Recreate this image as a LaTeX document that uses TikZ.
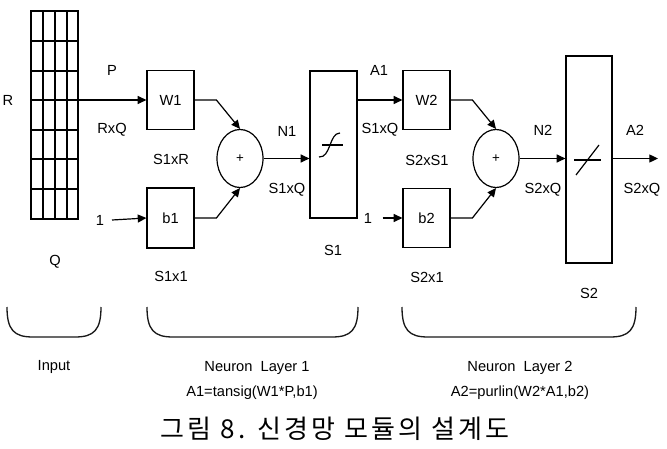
\documentclass[tikz,border=0pt]{standalone}
\usepackage{fontspec}
\setmainfont{Liberation Sans}
\newfontfamily\krfont[LetterSpace=12]{Noto Sans CJK KR}
\usetikzlibrary{arrows.meta,shapes.geometric}
\begin{document}
\begin{tikzpicture}[x=0.75pt,y=-0.75pt,
  lw/.style={line width=0.9pt},
  blk/.style={draw,lw,rectangle,inner sep=0pt,minimum width=35.25pt,minimum height=44pt,font=\fontsize{11}{13}\selectfont},
  tall/.style={draw,lw,rectangle,inner sep=0pt},
  sumnode/.style={draw,lw,ellipse,inner sep=0pt,minimum width=34.5pt,minimum height=43.5pt,font=\fontsize{10}{12}\selectfont},
  lbl/.style={inner sep=1pt,font=\fontsize{11}{13}\selectfont},
  con/.style={lw,-{Triangle[length=6.5pt,width=6pt]}},
  plain/.style={lw},
  brace/.style={line width=1pt,gray!20!black}]
\useasboundingbox (0,0) rectangle (667,449);

% input grid
\node[draw,line width=1.1pt,rectangle,inner sep=0pt,minimum width=35.25pt,minimum height=156pt] (grid) at (54.5,115) {};
\foreach \x in {43,55,67} \draw[line width=1.1pt] (\x,11) -- (\x,219);
\foreach \y in {41,71,100,130,159,189} \draw[line width=1.1pt] (31,\y) -- (78,\y);
\coordinate (pin) at (78,100);

% layer 1
\node[blk] (W1) at (170.5,100) {W1};
\node[blk,minimum height=45pt] (b1) at (170.5,218) {b1};
\node[sumnode] (sum1) at (240,158.5) {+};
\node[tall,minimum width=35.25pt,minimum height=110.25pt] (S1) at (333.5,144.5) {};
\draw[plain] (322,145) -- (343,145);
\draw[plain] (319,157) .. controls (331,158) and (329,133) .. (340,133);

% layer 2
\node[blk] (W2) at (426.5,100) {W2};
\node[blk,minimum height=44pt] (b2) at (426.5,218) {b2};
\node[sumnode] (sum2) at (496,158.5) {+};
\node[tall,minimum width=34.5pt,minimum height=155.25pt] (S2) at (589,159.5) {};
\draw[plain] (574,160) -- (601,160);
\draw[plain] (576,175) -- (599,145);

% labels
\node[lbl] (R) at (8,100) {R};
\node[lbl] (Q) at (55,262) {Q};
\node[lbl] (P) at (112,70) {P};
\node[lbl] (RxQ) at (112,130) {RxQ};
\node[lbl] (S1xR) at (171,159) {S1xR};
\node[lbl] (one1) at (100,220) {1};
\node[lbl] (S1x1) at (171,276) {S1x1};
\node[lbl] (N1) at (287,131) {N1};
\node[lbl] (S1xQa) at (287,190) {S1xQ};
\node[lbl] (S1l) at (333,250) {S1};
\node[lbl] (A1) at (379,70) {A1};
\node[lbl] (S1xQb) at (380,130) {S1xQ};
\node[lbl] (one2) at (368,218) {1};
\node[lbl] (S2xS1) at (427,160) {S2xS1};
\node[lbl] (S2x1) at (427,277) {S2x1};
\node[lbl] (N2) at (543,130) {N2};
\node[lbl] (S2xQa) at (543,190) {S2xQ};
\node[lbl] (S2l) at (589,293) {S2};
\node[lbl] (A2) at (635,130) {A2};
\node[lbl] (S2xQb) at (642,190) {S2xQ};
\coordinate (out) at (658,158.5);

% connectors
\draw[con] (pin) -- (W1.west);
\draw[con] ([xshift=9pt]one1.center) -- (b1.west);
\draw[con] (W1.east) -- (W1.east -| sum1.west) -- (sum1.north);
\draw[con] (b1.east) -- (b1.east -| sum1.west) -- (sum1.south);
\draw[con] (sum1.east) -- (sum1.east -| S1.west);
\draw[con] (S1.east |- W2.west) -- (W2.west);
\draw[con] ([xshift=11pt]one2.center) -- (b2.west);
\draw[con] (W2.east) -- (W2.east -| sum2.west) -- (sum2.north);
\draw[con] (b2.east) -- (b2.east -| sum2.west) -- (sum2.south);
\draw[con] (sum2.east) -- (sum2.east -| S2.west);
\draw[con] (S2.east |- sum2.east) -- (out);

% braces
\draw[brace] (7,307) .. controls (7,330) and (14,337) .. (33,337) -- (75,337) .. controls (94,337) and (101,330) .. (101,307);
\draw[brace] (147,307) .. controls (147,330) and (154,337) .. (173,337) -- (332,337) .. controls (351,337) and (358,330) .. (358,307);
\draw[brace] (402,307) .. controls (402,330) and (409,337) .. (428,337) -- (610,337) .. controls (629,337) and (636,330) .. (636,307);

\node[lbl] (inp) at (54,367) {Input};
\node[lbl] (nl1) at (257,368) {Neuron\ \ Layer 1};
\node[lbl] (f1) at (252,393) {A1=tansig(W1*P,b1)};
\node[lbl] (nl2) at (520,368) {Neuron\ \ Layer 2};
\node[lbl] (f2) at (520,393) {A2=purlin(W2*A1,b2)};
\node[inner sep=0pt,font=\krfont\fontsize{19.5}{22}\selectfont] (cap) at (335,429) {그림 8. 신경망 모듈의 설계도};
\end{tikzpicture}
\end{document}
